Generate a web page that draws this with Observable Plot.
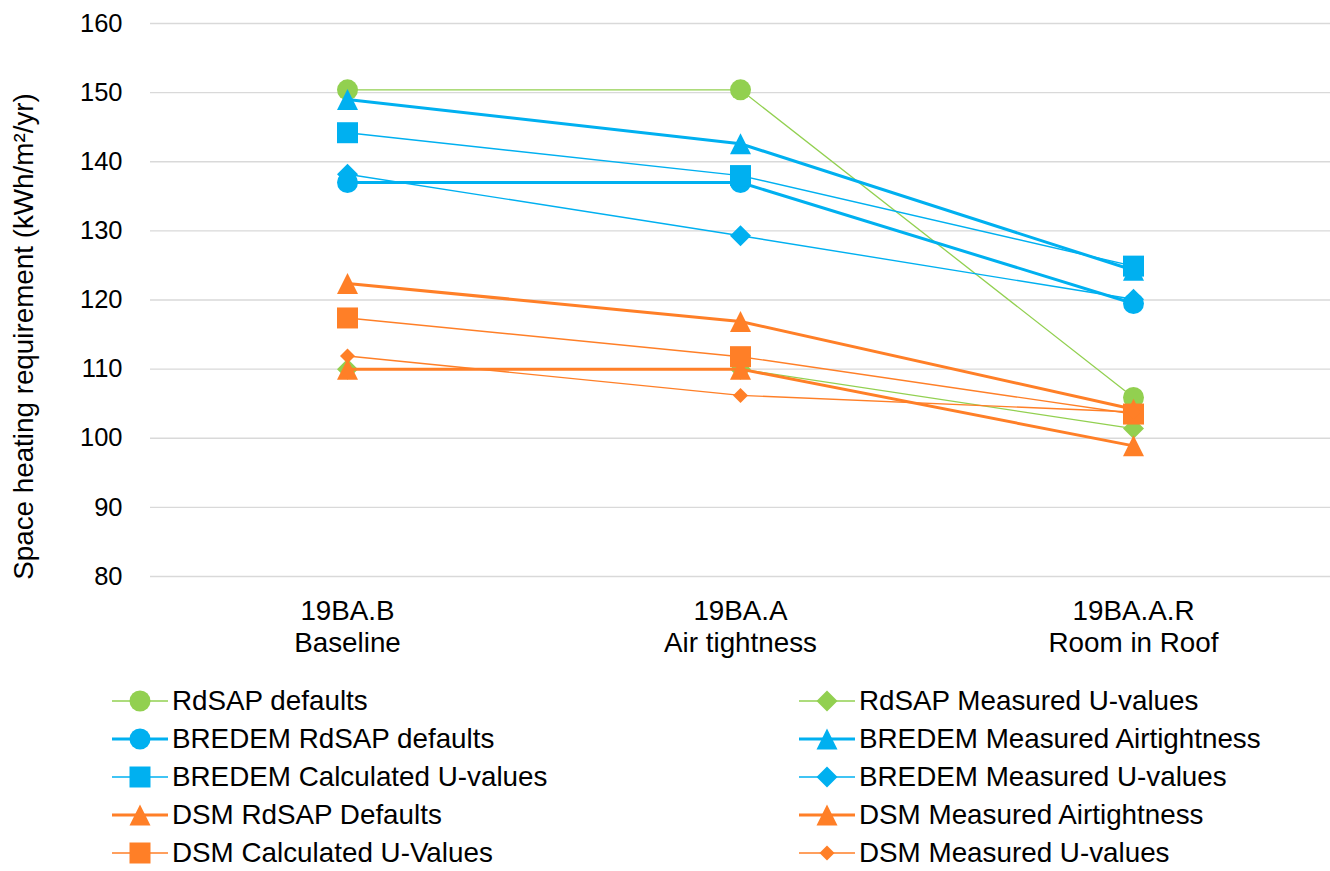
<!DOCTYPE html>
<html>
<head>
<meta charset="utf-8">
<script src="https://cdn.jsdelivr.net/npm/d3@7"></script>
<script src="https://cdn.jsdelivr.net/npm/@observablehq/plot@0.6"></script>
<style>
  body { margin: 0; background: #fff; font-family: "Liberation Sans", Arial, sans-serif; }
  #chart { position: relative; width: 1330px; height: 871px; overflow: hidden; }
  #legend { position: absolute; left: 0; top: 0; width: 1330px; height: 871px; pointer-events: none; }
  .item { position: absolute; display: flex; align-items: center; height: 26px; font-size: 27.8px; line-height: 0.9; color: #000; white-space: nowrap; }
  .item svg { display: block; margin-right: 4px; }
</style>
</head>
<body>
<div id="chart"><div id="legend"></div></div>
<script>
// Scenarios along the x axis
const categories = ["19BA.B\nBaseline", "19BA.A\nAir tightness", "19BA.A.R\nRoom in Roof"];
const yTicks = [80, 90, 100, 110, 120, 130, 140, 150, 160];
const yTitle = "Space heating requirement (kWh/m²/yr)";

// Space heating requirement per scenario (kWh/m²/yr)
const rdsapDefaults          = [150.4, 150.4, 105.9];
const rdsapMeasuredU         = [110.0, 110.0, 101.4];
const bredemRdsapDefaults    = [137.0, 137.0, 119.5];
const bredemMeasuredAir      = [149.0, 142.6, 124.3];
const bredemCalculatedU      = [144.2, 138.0, 124.9];
const bredemMeasuredU        = [138.2, 129.3, 120.1];
const dsmRdsapDefaults       = [122.4, 116.9, 104.2];
const dsmMeasuredAir         = [110.0, 110.0, 98.9];
const dsmCalculatedU         = [117.4, 111.8, 103.5];
const dsmMeasuredU           = [111.9, 106.2, 103.8];

const seriesNames = [
  "RdSAP defaults", "RdSAP Measured U-values",
  "BREDEM RdSAP defaults", "BREDEM Measured Airtightness",
  "BREDEM Calculated U-values", "BREDEM Measured U-values",
  "DSM RdSAP Defaults", "DSM Measured Airtightness",
  "DSM Calculated U-Values", "DSM Measured U-values"
];
const seriesValues = [
  rdsapDefaults, rdsapMeasuredU,
  bredemRdsapDefaults, bredemMeasuredAir,
  bredemCalculatedU, bredemMeasuredU,
  dsmRdsapDefaults, dsmMeasuredAir,
  dsmCalculatedU, dsmMeasuredU
];

// Styling for each series
const GREEN = "#92D050", BLUE = "#00B0F0", ORANGE = "#FF7F27";
const seriesColors = [GREEN, GREEN, BLUE, BLUE, BLUE, BLUE, ORANGE, ORANGE, ORANGE, ORANGE];
const seriesShapes = ["circle", "diamond", "circle", "triangle", "square", "diamond", "triangle", "triangle", "square", "diamond"];
const seriesWidths = [1.3, 1.3, 3, 3, 1.4, 1.4, 3, 3, 1.4, 1.4];
const markerRadius = [10.5, 10.5, 10.5, 10.5, 10.5, 10.5, 10.5, 10.5, 10.5, 7.5];

// Marker shapes; size is the symbol area (π r²), r is the half-extent
const half = size => Math.sqrt(size / Math.PI);
const shapes = {
  circle:   { draw(c, s) { const r = half(s); c.moveTo(r, 0); c.arc(0, 0, r, 0, 2 * Math.PI); } },
  square:   { draw(c, s) { const r = half(s); c.rect(-r, -r, 2 * r, 2 * r); } },
  triangle: { draw(c, s) { const r = half(s); c.moveTo(0, -r); c.lineTo(r, r); c.lineTo(-r, r); c.closePath(); } },
  diamond:  { draw(c, s) { const r = half(s); c.moveTo(0, -r); c.lineTo(r, 0); c.lineTo(0, r); c.lineTo(-r, 0); c.closePath(); } }
};

const rows = seriesNames.map((name, i) =>
  categories.map((cat, j) => ({ series: name, category: cat, value: seriesValues[i][j] }))
);

const seriesMarks = rows.flatMap((data, i) => [
  Plot.line(data, { x: "category", y: "value", stroke: seriesColors[i], strokeWidth: seriesWidths[i] }),
  Plot.dot(data, { x: "category", y: "value", r: markerRadius[i], symbol: shapes[seriesShapes[i]], fill: seriesColors[i], stroke: "none" })
]);

const chart = Plot.plot({
  width: 1330,
  height: 680,
  marginLeft: 150,
  marginRight: 0,
  marginTop: 23,
  marginBottom: 104,
  style: { fontFamily: "'Liberation Sans', Arial, sans-serif", fontSize: "27.8px", color: "#000", background: "#fff" },
  x: { type: "point", domain: categories, padding: 0.5 },
  y: { domain: [80, 160] },
  marks: [
    Plot.gridY(yTicks, { stroke: "#D9D9D9", strokeOpacity: 1, strokeWidth: 1.3 }),
    Plot.axisY(yTicks, { tickSize: 0, tickPadding: 28, label: null, fill: "#000", fontSize: 25.5 }),
    Plot.axisX({ tickSize: 0, tickPadding: 21, label: null, lineHeight: 1.14, fill: "#000" }),
    Plot.text([yTitle], { text: d => d, frameAnchor: "left", textAnchor: "middle", dx: -126, dy: 36.5, rotate: -90, fill: "#000" }),
    ...seriesMarks
  ]
});
document.getElementById("chart").prepend(chart);

// Legend: two columns, read left to right then down
const legend = document.getElementById("legend");
seriesNames.forEach((name, i) => {
  const col = i % 2, row = Math.floor(i / 2);
  const item = document.createElement("div");
  item.className = "item";
  item.style.left = (col === 0 ? 112 : 799) + "px";
  item.style.top = (701 + row * 38 - 13) + "px";
  const sw = d3.create("svg").attr("width", 56).attr("height", 24);
  sw.append("line").attr("x1", 0).attr("x2", 56).attr("y1", 12).attr("y2", 12)
    .attr("stroke", seriesColors[i]).attr("stroke-width", seriesWidths[i]);
  const r = markerRadius[i];
  sw.append("path")
    .attr("transform", "translate(28,12)")
    .attr("d", d3.symbol(shapes[seriesShapes[i]], r * r * Math.PI)())
    .attr("fill", seriesColors[i]);
  item.appendChild(sw.node());
  const label = document.createElement("span");
  label.textContent = name;
  item.appendChild(label);
  legend.appendChild(item);
});
</script>
</body>
</html>
